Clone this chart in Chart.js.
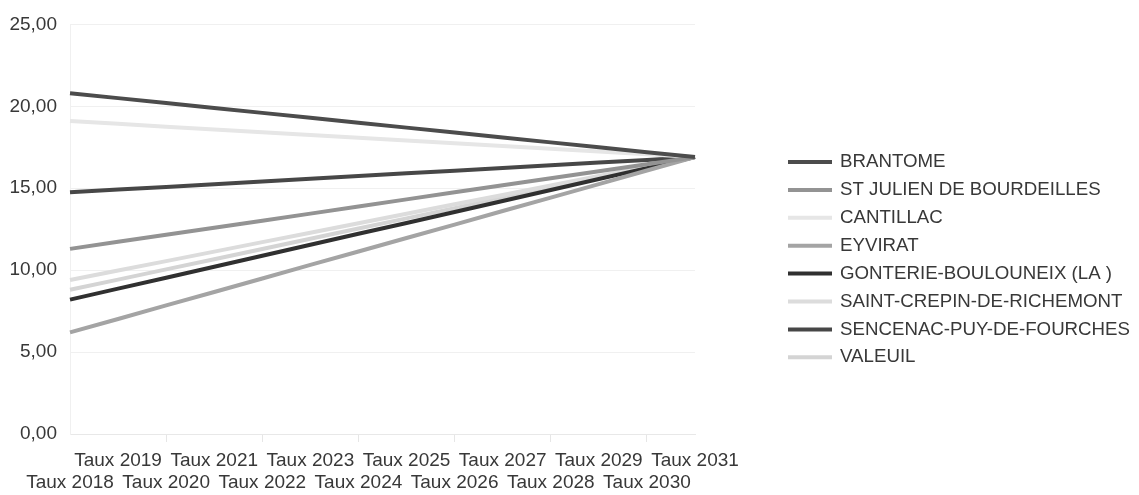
<!DOCTYPE html>
<html>
<head>
<meta charset="utf-8">
<script src="https://cdn.jsdelivr.net/npm/chart.js@4/dist/chart.umd.min.js"></script>
<style>
  html, body { margin: 0; padding: 0; background: #ffffff; }
  #wrap { position: relative; width: 1139px; height: 495px; }
</style>
</head>
<body>
<div id="wrap"><canvas id="chart"></canvas></div>
<script>
// Years of the rate smoothing period
const categories = ["Taux 2018", "Taux 2019", "Taux 2020", "Taux 2021", "Taux 2022", "Taux 2023", "Taux 2024",
                    "Taux 2025", "Taux 2026", "Taux 2027", "Taux 2028", "Taux 2029", "Taux 2030", "Taux 2031"];

// Rates per commune (%)
const brantome     = [20.80, 20.50, 20.20, 19.90, 19.60, 19.30, 19.00, 18.70, 18.40, 18.10, 17.80, 17.50, 17.20, 16.90];
const stJulien     = [11.30, 11.73, 12.16, 12.59, 13.02, 13.45, 13.88, 14.32, 14.75, 15.18, 15.61, 16.04, 16.47, 16.90];
const cantillac    = [19.10, 18.93, 18.76, 18.59, 18.42, 18.25, 18.08, 17.92, 17.75, 17.58, 17.41, 17.24, 17.07, 16.90];
const eyvirat      = [6.20, 7.02, 7.85, 8.67, 9.49, 10.32, 11.14, 11.96, 12.78, 13.61, 14.43, 15.25, 16.08, 16.90];
const gonterie     = [8.20, 8.87, 9.54, 10.21, 10.88, 11.55, 12.22, 12.88, 13.55, 14.22, 14.89, 15.56, 16.23, 16.90];
const saintCrepin  = [9.40, 9.98, 10.55, 11.13, 11.71, 12.28, 12.86, 13.44, 14.02, 14.59, 15.17, 15.75, 16.32, 16.90];
const sencenac     = [14.75, 14.92, 15.08, 15.25, 15.41, 15.58, 15.74, 15.91, 16.07, 16.24, 16.40, 16.57, 16.73, 16.90];
const valeuil      = [8.80, 9.42, 10.05, 10.67, 11.29, 11.92, 12.54, 13.16, 13.78, 14.41, 15.03, 15.65, 16.28, 16.90];

const seriesNames = ["BRANTOME", "ST JULIEN DE BOURDEILLES", "CANTILLAC", "EYVIRAT",
                     "GONTERIE-BOULOUNEIX (LA )", "SAINT-CREPIN-DE-RICHEMONT", "SENCENAC-PUY-DE-FOURCHES", "VALEUIL"];
const seriesValues = [brantome, stJulien, cantillac, eyvirat, gonterie, saintCrepin, sencenac, valeuil];
const seriesColors = ["#4c4c4c", "#939393", "#e6e6e6", "#a4a4a4", "#303030", "#dcdcdc", "#474747", "#d4d4d4"];

// Y axis range
const yMin = 0, yMax = 25, yStep = 5;

const FONT = "'Liberation Sans', Arial, sans-serif";
const TEXT = "#383838";

// Legend drawn to the right of the plot, one line sample + label per series
const sideLegend = {
  id: "sideLegend",
  afterDraw(chart) {
    const ctx = chart.ctx;
    const x0 = 788, x1 = 832, tx = 840, y0 = 162, dy = 27.9;
    ctx.save();
    ctx.font = "18.7px " + FONT;
    ctx.textBaseline = "middle";
    ctx.textAlign = "left";
    chart.data.datasets.forEach((ds, i) => {
      const y = y0 + i * dy;
      ctx.strokeStyle = ds.borderColor;
      ctx.lineWidth = 4;
      ctx.beginPath();
      ctx.moveTo(x0, y);
      ctx.lineTo(x1, y);
      ctx.stroke();
      ctx.fillStyle = TEXT;
      ctx.fillText(ds.label, tx, y);
    });
    ctx.restore();
  }
};

new Chart(document.getElementById("chart"), {
  type: "line",
  data: {
    labels: categories,
    datasets: seriesNames.map((name, i) => ({
      label: name,
      data: seriesValues[i],
      borderColor: seriesColors[i],
      backgroundColor: seriesColors[i],
      borderWidth: 4,
      pointRadius: 0,
      pointHoverRadius: 0,
      tension: 0,
      fill: false
    }))
  },
  options: {
    responsive: true,
    maintainAspectRatio: false,
    animation: false,
    layout: { padding: { left: 0, top: 22, right: 444, bottom: 0 } },
    plugins: {
      legend: { display: false },
      tooltip: { enabled: false }
    },
    scales: {
      x: {
        type: "category",
        offset: false,
        border: { display: true, color: "#e8e8e8", width: 1 },
        grid: {
          drawOnChartArea: false,
          drawTicks: true,
          tickLength: 8,
          tickColor: (c) => (c.index % 2 === 0 && c.index > 0 ? "#e6e6e6" : "rgba(0,0,0,0)")
        },
        ticks: {
          autoSkip: false,
          maxRotation: 0,
          minRotation: 0,
          padding: 7,
          color: TEXT,
          font: { family: FONT, size: 19 },
          callback: function (value, index) {
            const lbl = this.getLabelForValue(value);
            return index % 2 === 0 ? ["", lbl] : [lbl, ""];
          }
        },
        afterFit: (s) => { s.height = 61; }
      },
      y: {
        min: yMin,
        max: yMax,
        border: { display: true, color: "#f0f0f0", width: 1 },
        grid: { color: "#f0f0f0", lineWidth: 1, drawTicks: false },
        ticks: {
          stepSize: yStep,
          padding: 13,
          color: TEXT,
          font: { family: FONT, size: 19 },
          callback: (v) => v.toFixed(2).replace(".", ",")
        },
        afterFit: (s) => { s.width = 70; }
      }
    }
  },
  plugins: [sideLegend]
});
</script>
</body>
</html>
